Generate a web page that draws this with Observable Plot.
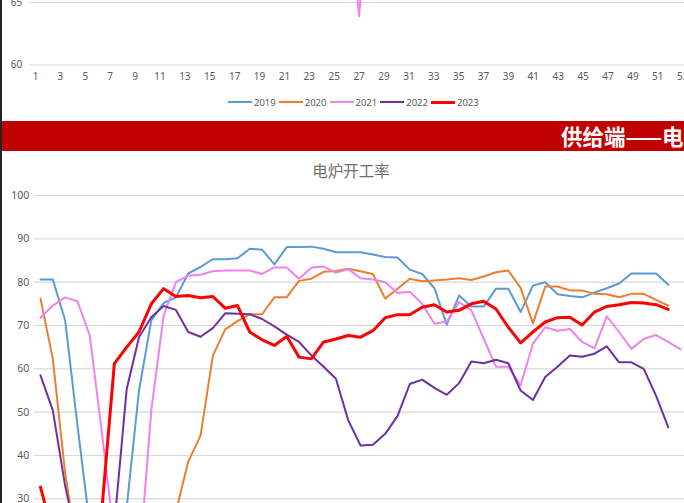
<!DOCTYPE html>
<html><head><meta charset="utf-8">
<script src="https://cdn.jsdelivr.net/npm/d3@7"></script>
<script src="https://cdn.jsdelivr.net/npm/@observablehq/plot@0.6"></script>
<style>
html,body{margin:0;padding:0;background:#fff;overflow:hidden;}
#page{position:relative;width:684px;height:503px;overflow:hidden;background:#fff;font-family:"Noto Sans","Noto Sans CJK SC",sans-serif;}
.abs{position:absolute;}
#topchart{left:0;top:0;width:720px;}
#legend{left:228px;top:96px;height:12px;display:flex;align-items:center;font-size:9.5px;color:#595959;}
#legend .item{display:flex;align-items:center;margin-right:3px;}
#legend .sw{width:24px;margin-right:2px;}
#banner{left:2px;top:121px;width:682px;height:30px;background:#C00000;overflow:hidden;}
#banner span{position:absolute;left:559px;top:0;white-space:nowrap;color:#fff;font-weight:bold;font-size:21.5px;line-height:30px;font-family:"Noto Sans CJK SC",sans-serif;}
#title{left:251px;width:200px;top:160px;text-align:center;font-size:15.5px;line-height:20px;color:#6f6f6f;font-family:"Noto Sans CJK SC",sans-serif;}
#mainchart{left:0;top:152px;width:720px;}
#border{left:0;top:0;width:2px;height:503px;background:#222;}
</style>
</head><body>
<div id="page">
  <div id="topchart" class="abs"></div>
  <div id="legend" class="abs"></div>
  <div id="banner" class="abs"><span>供给端——电炉</span></div>
  <div id="title" class="abs">电炉开工率</div>
  <div id="mainchart" class="abs"></div>
  <div id="border" class="abs"></div>
</div>
<script>
// ---------- data ----------
const years = ["2019", "2020", "2021", "2022", "2023"];
const colors = ["#5B9BD5", "#ED7D31", "#EE82EE", "#7030A0", "#FF0000"];

// 电炉开工率 (weekly, %)
const v2019 = [80.6,80.6,71.2,47,24,15,14,28,55,71.2,75.2,76.5,82,83.5,85.3,85.3,85.5,87.7,87.5,84.1,88.1,88.1,88.2,87.7,86.9,86.9,86.9,86.4,85.8,85.7,82.9,81.9,78.6,70.2,76.9,74.4,74.4,78.5,78.5,73.1,79.2,80,77.2,76.8,76.5,77.6,78.6,79.7,82,82,82,79.4];
const v2020 = [76.2,62.3,36,18,10,7,6,6,8,12,18,27,38.6,44.6,63,69.1,71,72.6,72.6,76.5,76.5,80.3,80.8,82.4,82.6,83.1,82.5,81.9,76.2,78.5,80.8,80.2,80.4,80.6,80.9,80.5,81.3,82.3,82.7,78.7,70.5,79,79,78.1,78.1,77.3,77.2,76.5,77.3,77.3,75.9,74.6];
const v2021 = [71.8,74.6,76.5,75.6,67.7,45,21,9,14,50.4,72.3,80,81.5,81.7,82.5,82.7,82.7,82.7,81.9,83.4,83.4,80.8,83.3,83.6,82.2,83,80.9,80.6,80,77.5,77.8,75,70.4,70.9,75.4,73.5,67,60.5,60.5,56.2,65.8,69.6,68.8,69.2,66.2,64.7,72.1,68.5,64.6,66.9,67.8,66.2,64.5];
const v2022 = [58.5,50.4,33,20,14,15,24,55.3,67.3,71.9,74.5,73.6,68.5,67.4,69.4,72.8,72.7,72.6,71.5,69.8,67.9,66.2,63.1,60.5,57.7,48.1,42.3,42.5,45,49.1,56.5,57.5,55.6,54,56.7,61.7,61.3,62.1,61.3,55,52.8,58.1,60.5,63.1,62.8,63.5,65.2,61.5,61.5,60,53.8,46.5];
const v2023 = [32.7,22,12,10,15,28,61.2,65,68.5,75,78.5,76.7,76.9,76.4,76.7,74,74.6,68.5,66.7,65.4,67.5,62.7,62.3,66.2,66.9,67.7,67.3,68.8,71.8,72.5,72.5,74.2,74.8,73.1,73.5,75,75.6,73.8,69.6,66,68.5,70.8,71.8,71.9,70.1,73.1,74.4,74.8,75.3,75.2,74.8,73.7];
const mainYTicks = [0,10,20,30,40,50,60,70,80,90,100];
const weekTicks = [1,3,5,7,9,11,13,15,17,19,21,23,25,27,29,31,33,35,37,39,41,43,45,47,49,51,53];

// previous chart (only its lowest part is visible): 2021 dip around week 27
const topWeeks = [26, 27, 28];
const top2021 = [76, 63.9, 76];
const topYTicks = [60, 65];

// ---------- build ----------
const series = [v2019, v2020, v2021, v2022, v2023];
const rows = series.flatMap((vals, i) => vals.map((v, j) => ({year: years[i], week: j + 1, value: v})));
const widthFor = y => (y === "2023" ? 3 : 2);
const font = '"Noto Sans", sans-serif';

// top (cut) chart
const topRows = topWeeks.map((w, i) => ({week: w, value: top2021[i]}));
const topPlot = Plot.plot({
  width: 720, height: 92,
  marginLeft: 28.8, marginRight: 31.6, marginTop: 2, marginBottom: 27.5,
  x: {domain: [0.5, 53.5], label: null},
  y: {domain: [60, 65], label: null},
  style: {fontFamily: font, fontSize: "10px", background: "transparent", maxWidth: "none", overflow: "hidden"},
  marks: [
    Plot.ruleY(topYTicks, {stroke: "#d9d9d9", strokeWidth: 1.2}),
    Plot.axisY(topYTicks, {tickSize: 0, tickPadding: 7, fill: "#595959", fontSize: 10, label: null, tickFormat: d => d}),
    Plot.axisX(weekTicks, {tickSize: 0, tickPadding: 8, fill: "#595959", fontSize: 10, label: null, tickFormat: d => d}),
    Plot.line(topRows, {x: "week", y: "value", stroke: colors[2], strokeWidth: 2})
  ]
});
document.getElementById("topchart").appendChild(topPlot);

// legend
const leg = d3.select("#legend");
years.forEach((y, i) => {
  const it = leg.append("div").attr("class", "item");
  it.append("div").attr("class", "sw").style("height", widthFor(y) + "px").style("background", colors[i]);
  it.append("span").text(y);
});

// main chart
const mainPlot = Plot.plot({
  width: 720, height: 517,
  marginLeft: 33.85, marginRight: 33.7, marginTop: 43, marginBottom: 40.67,
  x: {domain: [0.5, 53.5], label: null},
  y: {domain: [0, 100], label: null},
  style: {fontFamily: font, fontSize: "10.5px", background: "transparent", maxWidth: "none"},
  marks: [
    Plot.ruleY(mainYTicks, {stroke: "#d9d9d9", strokeWidth: 1.2}),
    Plot.axisY(mainYTicks, {tickSize: 0, tickPadding: 5, fill: "#595959", fontSize: 10.5, label: null, tickFormat: d => d}),
    Plot.axisX(weekTicks, {tickSize: 0, tickPadding: 8, fill: "#595959", fontSize: 10, label: null, tickFormat: d => d}),
    ...years.map((y, i) => Plot.line(rows.filter(r => r.year === y), {
      x: "week", y: "value", stroke: colors[i], strokeWidth: widthFor(y), strokeLinejoin: "round"
    }))
  ]
});
document.getElementById("mainchart").appendChild(mainPlot);
</script>
</body></html>
